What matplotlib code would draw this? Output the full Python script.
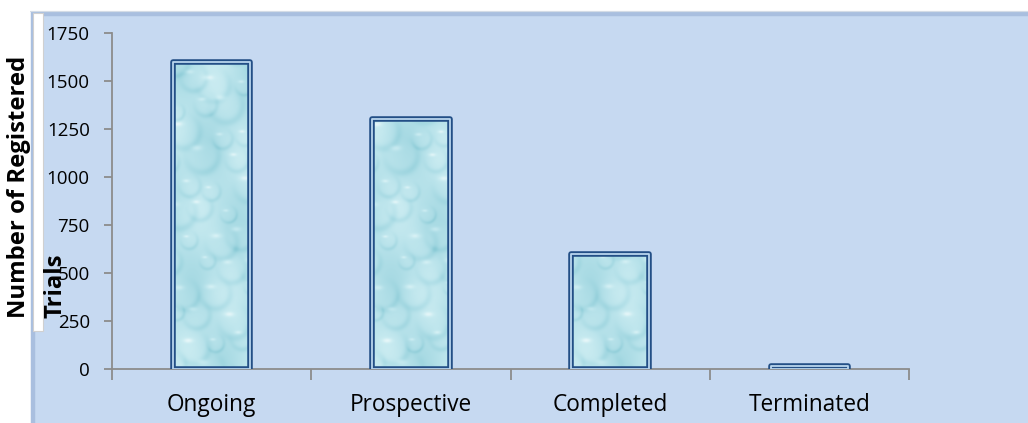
import numpy as np
import matplotlib
matplotlib.use("Agg")
import matplotlib.pyplot as plt
from matplotlib.patches import Rectangle
from matplotlib.colors import LinearSegmentedColormap

# Registered trials by status
categories = ["Ongoing", "Prospective", "Completed", "Terminated"]
trial_counts = [1600, 1300, 600, 15]
y_ticks = [0, 250, 500, 750, 1000, 1250, 1500, 1750]
y_label_lines = ["Number of Registered", "Trials"]

W, H = 1028, 423
DPI = 100
FONT = "Open Sans"
fig = plt.figure(figsize=(W / DPI, H / DPI), dpi=DPI)
fig.patch.set_facecolor("white")


def px(x, y):
    """Pixel position (from top-left) to figure fraction."""
    return x / W, 1 - y / H


# light-blue chart panel with a soft border
panel = Rectangle(px(32.5, 14.5), 2.0, -2.0, transform=fig.transFigure,
                  facecolor="#C6D9F1", edgecolor="#A9BFDF", linewidth=3.2,
                  zorder=0)
fig.patches.append(panel)
fig.patches.append(Rectangle(px(30, 11.5), 2.0, 0, transform=fig.transFigure,
                             facecolor="none", edgecolor="#D4DCE6",
                             linewidth=0.8, zorder=0))

# white title box behind the axis title
bx0, by0 = px(33, 331)
bx1, by1 = px(43, 13)
fig.patches.append(Rectangle((bx0, by0), bx1 - bx0, by1 - by0,
                             transform=fig.transFigure, facecolor="white",
                             edgecolor="#D0D0D0", linewidth=0.8, zorder=1))

left, right = 112 / W, 909 / W
bottom, top = 1 - 369 / H, 1 - 33 / H
ax = fig.add_axes([left, bottom, right - left, top - bottom])
ax.set_facecolor("none")
ax.set_zorder(2)

x = np.arange(len(categories))
bar_w = 0.39


def droplet_texture(w=80, h=336, s=2):
    """Soft water-droplet shading field (values 0..1), w x h pixels."""
    yy, xx = np.mgrid[0:h * s, 0:w * s] / s
    v = 0.6 + 0.07 * np.sin(xx / 11.0 + yy / 29.0) + 0.06 * np.cos(yy / 19.0 - xx / 15.0)
    sx, sy = 30.0, 26.0
    for j in range(int(h / sy) + 2):
        for i in range(int(w / sx) + 2):
            cx = i * sx + (sx / 2 if j % 2 else 0) + 6 * np.sin(i * 2.1 + j * 1.3)
            cy = j * sy + 5 * np.cos(i * 1.7 + j * 2.9)
            r = 14.0 + 5.0 * np.sin(i * 1.9 + j * 2.3)
            dx, dy = xx - cx, yy - cy
            d = np.hypot(dx, dy)
            t = d / r
            direction = np.clip((dx * 0.5 - dy * 0.85) / (d + 1e-6), -1, 1)
            rim = np.exp(-((t - 0.9) / 0.2) ** 2)
            v -= 0.16 * rim * (0.45 + 0.55 * direction)
            hx, hy = cx - 0.3 * r, cy + 0.4 * r
            hl = np.exp(-((xx - hx) ** 2 / (0.3 * r) ** 2 + (yy - hy) ** 2 / (0.14 * r) ** 2))
            v += 0.22 * hl
            v += 0.05 * np.clip(1 - t, 0, 1)
    return np.clip(v, 0, 1)


tex = droplet_texture()
water = LinearSegmentedColormap.from_list(
    "water", ["#7CC2CF", "#A0D6E0", "#B7E2EA", "#CDEDF2", "#F0FAFB"])

bars = ax.bar(x, trial_counts, width=bar_w, facecolor="#B7E2EA",
              edgecolor="none", zorder=3)
for b in bars:
    bx, bw, bh = b.get_x(), b.get_width(), b.get_height()
    im = ax.imshow(tex, cmap=water, extent=(bx, bx + bw, 0, 1750),
                   origin="lower", aspect="auto", zorder=3.5,
                   interpolation="bilinear", vmin=0.2, vmax=1.0)
    im.set_clip_path(b)
    # double-line outline
    ax.add_patch(Rectangle((bx, 0), bw, bh, facecolor="none",
                           edgecolor="#234F86", linewidth=4.0,
                           joinstyle="round", zorder=4))
    ax.add_patch(Rectangle((bx, 0), bw, bh, facecolor="none",
                           edgecolor="#B9D6EE", linewidth=1.3,
                           joinstyle="round", zorder=4.5))
ax.set_xlim(-0.5, len(categories) - 0.5)
ax.set_ylim(0, 1750)

axis_col = "#8C8C8C"
for side in ("top", "right"):
    ax.spines[side].set_visible(False)
for side in ("left", "bottom"):
    ax.spines[side].set_color(axis_col)
    ax.spines[side].set_linewidth(1.3)

ax.set_yticks(y_ticks)
ax.set_yticklabels([str(v) for v in y_ticks])
ax.tick_params(axis="y", direction="out", length=6, width=1.3, color=axis_col,
               pad=10, labelsize=13.5, labelcolor="black")
for t in ax.get_yticklabels():
    t.set_fontfamily(FONT)

# category boundaries as ticks, labels at category centres
ax.set_xticks(np.arange(-0.5, len(categories), 1.0))
ax.set_xticklabels([])
ax.set_xticks(x, minor=True)
ax.set_xticklabels(categories, minor=True)
ax.tick_params(axis="x", which="major", direction="out", length=8, width=1.3,
               color=axis_col)
ax.tick_params(axis="x", which="minor", length=0, pad=17, labelsize=16.3,
               labelcolor="black")
for t in ax.get_xticklabels(minor=True):
    t.set_fontfamily(FONT)

# two-line axis title
fig.text(*px(25, 318), y_label_lines[0], rotation=90, rotation_mode="anchor",
         ha="left", va="baseline", fontsize=17.2, fontweight="bold",
         fontfamily=FONT, color="black", zorder=5)
fig.text(*px(62, 318), y_label_lines[1], rotation=90, rotation_mode="anchor",
         ha="left", va="baseline", fontsize=17.2, fontweight="bold",
         fontfamily=FONT, color="black", zorder=5)

fig.savefig("out.png", dpi=DPI)
